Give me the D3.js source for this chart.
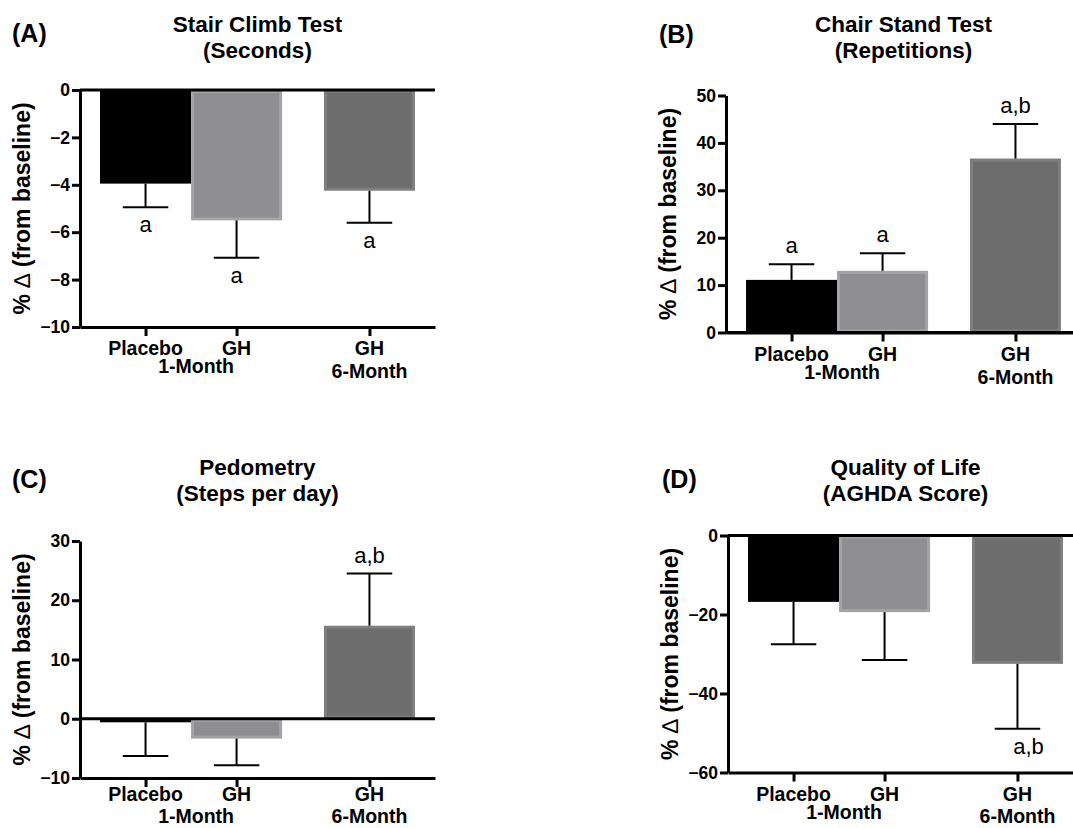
<!DOCTYPE html>
<html>
<head>
<meta charset="utf-8">
<script src="https://cdn.jsdelivr.net/npm/d3@7"></script>
<style>
body { margin: 0; background: #fff; }
text { font-family: "Liberation Sans", Arial, sans-serif; }
</style>
</head>
<body>
<svg id="chart" width="1073" height="828"></svg>
<script>
// groups along the x axis
const groups = ["Placebo", "GH", "GH"]
const periods = ["1-Month", "6-Month"]

// (A) stair climb, seconds
const stairMean = [-3.95, -5.5, -4.25]
const stairErr = [1.0, 1.58, 1.35]
const stairSig = ["a", "a", "a"]
const stairTicks = [0, -2, -4, -6, -8, -10]

// (B) chair stand, repetitions
const chairMean = [11.1, 13.0, 36.7]
const chairErr = [3.3, 3.7, 7.3]
const chairSig = ["a", "a", "a,b"]
const chairTicks = [0, 10, 20, 30, 40, 50]

// (C) pedometry, steps per day
const pedoMean = [-0.6, -3.35, 15.7]
const pedoErr = [5.7, 4.5, 8.8]
const pedoSig = ["", "", "a,b"]
const pedoTicks = [-10, 0, 10, 20, 30]

// (D) quality of life, AGHDA score
const qolMean = [-16.8, -19.4, -32.5]
const qolErr = [10.7, 12.1, 16.4]
const qolSig = ["", "", "a,b"]
const qolTicks = [0, -20, -40, -60]

const fills = ["#000000", "#8e8d92", "#6d6d6d"]
const strokes = ["#000000", "#a4a4a7", "#7f7f7f"]

const svg = d3.select("#chart")
const pageH = 828

function drawPanel(p) {
	const W = 355, H = 237
	const g = svg.append("g").attr("transform", `translate(${p.left},${p.top})`)

	const y = d3.scaleLinear().domain(p.domain).range([H, 0])
	const x = d3.scaleLinear().domain([-0.72, 3.18]).range([0, W])
	// third bar sits a bit apart from the 1-month pair
	const slot = i => i < 2 ? i : i + 0.46
	const bw = x(1) - x(0)

	// bars
	g.selectAll(".bar")
		.data(p.mean)
		.join("rect")
		.attr("class", "bar")
		.attr("x", (d, i) => x(slot(i)) - bw / 2 + 1.5)
		.attr("width", bw - 3)
		.attr("y", d => Math.min(y(d), y(0)) + 1.5)
		.attr("height", d => Math.max(Math.abs(y(d) - y(0)) - 3, 0.5))
		.attr("fill", (d, i) => fills[i])
		.attr("stroke", (d, i) => strokes[i])
		.attr("stroke-width", 3)

	// error bars, drawn away from zero
	const ends = p.mean.map((d, i) => d + Math.sign(d) * p.err[i])
	const eb = g.selectAll(".err")
		.data(p.mean)
		.join("g")
		.attr("class", "err")
	eb.append("line")
		.attr("x1", (d, i) => x(slot(i)))
		.attr("x2", (d, i) => x(slot(i)))
		.attr("y1", d => y(d))
		.attr("y2", (d, i) => y(ends[i]))
		.attr("stroke", "#000")
		.attr("stroke-width", 2)
	eb.append("line")
		.attr("x1", (d, i) => x(slot(i)) - bw / 4)
		.attr("x2", (d, i) => x(slot(i)) + bw / 4)
		.attr("y1", (d, i) => y(ends[i]))
		.attr("y2", (d, i) => y(ends[i]))
		.attr("stroke", "#000")
		.attr("stroke-width", 2)

	// significance letters
	g.selectAll(".sig")
		.data(p.sig)
		.join("text")
		.attr("class", "sig")
		.attr("x", (d, i) => x(slot(i)) + (p.mean[i] < 0 ? (p.sigDx || 0) : 0))
		.attr("y", (d, i) => p.mean[i] > 0 ? y(ends[i]) - 11 : y(ends[i]) + 25)
		.attr("text-anchor", "middle")
		.attr("font-size", 22)
		.text(d => d)

	// zero line
	g.append("line")
		.attr("x1", 0).attr("x2", W)
		.attr("y1", y(0)).attr("y2", y(0))
		.attr("stroke", "#000")
		.attr("stroke-width", 3)

	// axes
	const yAxis = g.append("g")
		.call(d3.axisLeft(y).tickValues(p.ticks).tickSize(8).tickSizeOuter(0).tickPadding(2))
	const xAxis = g.append("g")
		.attr("transform", `translate(0,${H})`)
		.call(d3.axisBottom(x).tickValues([0, 1, 2.46]).tickFormat("").tickSize(9).tickSizeOuter(0))
	for (const a of [yAxis, xAxis]) {
		a.select(".domain").attr("stroke", "#000").attr("stroke-width", 3)
		a.selectAll(".tick line").attr("stroke", "#000").attr("stroke-width", 3)
		a.attr("font-family", null)
	}
	yAxis.selectAll(".tick text")
		.attr("font-size", 17.5)
		.attr("font-weight", "bold")
		.attr("fill", "#000")

	// x labels; in the bottom row they are pushed up to stay inside the page
	const maxBase = pageH - 5 - p.top
	const base2a = Math.min(H + 46, maxBase)
	const base2b = Math.min(H + 51, maxBase)
	const base1 = Math.min(H + 28, maxBase - 22)
	g.selectAll(".grp")
		.data(groups)
		.join("text")
		.attr("class", "grp")
		.attr("x", (d, i) => x(slot(i)))
		.attr("y", base1)
		.attr("text-anchor", "middle")
		.attr("font-size", 19.5)
		.attr("font-weight", "bold")
		.text(d => d)
	g.append("text")
		.attr("x", (x(0) + x(1)) / 2 + 5)
		.attr("y", base2a)
		.attr("text-anchor", "middle")
		.attr("font-size", 19.5)
		.attr("font-weight", "bold")
		.text(periods[0])
	g.append("text")
		.attr("x", x(slot(2)))
		.attr("y", base2b)
		.attr("text-anchor", "middle")
		.attr("font-size", 19.5)
		.attr("font-weight", "bold")
		.text(periods[1])

	// y label
	const yl = g.append("text")
		.attr("transform", `translate(-50,${H / 2}) rotate(-90)`)
		.attr("text-anchor", "middle")
		.attr("font-size", 23)
		.attr("font-weight", "bold")
	yl.append("tspan").text("% ")
	yl.append("tspan").attr("font-weight", "normal").text("\u2206")
	yl.append("tspan").text(" (from baseline)")

	// title and panel letter
	const t = svg.append("text")
		.attr("text-anchor", "middle")
		.attr("font-size", 22.5)
		.attr("font-weight", "bold")
	t.append("tspan").attr("x", p.left + W / 2).attr("y", p.titleY).text(p.title[0])
	t.append("tspan").attr("x", p.left + W / 2).attr("y", p.titleY + 26).text(p.title[1])

	svg.append("text")
		.attr("x", p.letterX)
		.attr("y", p.letterY)
		.attr("font-size", 25)
		.attr("font-weight", "bold")
		.text(p.letter)
}

drawPanel({ letter: "(A)", title: ["Stair Climb Test", "(Seconds)"], mean: stairMean, err: stairErr, sig: stairSig,
	ticks: stairTicks, domain: [-10, 0], left: 80, top: 90, titleY: 32, letterX: 12, letterY: 42 })
drawPanel({ letter: "(B)", title: ["Chair Stand Test", "(Repetitions)"], mean: chairMean, err: chairErr, sig: chairSig,
	ticks: chairTicks, domain: [0, 50], left: 726, top: 95.5, titleY: 32, letterX: 659, letterY: 43 })
drawPanel({ letter: "(C)", title: ["Pedometry", "(Steps per day)"], mean: pedoMean, err: pedoErr, sig: pedoSig,
	ticks: pedoTicks, domain: [-10, 30], left: 80, top: 541, titleY: 475, letterX: 12, letterY: 488 })
drawPanel({ letter: "(D)", title: ["Quality of Life", "(AGHDA Score)"], mean: qolMean, err: qolErr, sig: qolSig,
	ticks: qolTicks, domain: [-60, 0], left: 728, top: 535.5, titleY: 475, letterX: 662, letterY: 488, sigDx: 11 })
</script>
</body>
</html>
